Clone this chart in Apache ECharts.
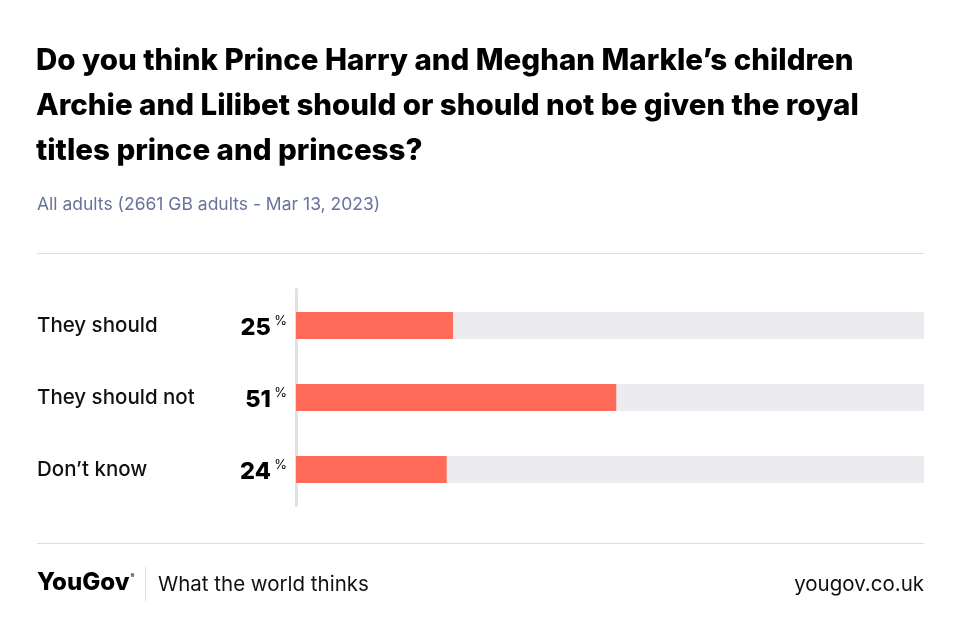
<!DOCTYPE html>
<html>
<head>
<meta charset="utf-8">
<script src="https://cdn.jsdelivr.net/npm/echarts@6/dist/echarts.min.js"></script>
<style>html,body{margin:0;padding:0;background:#fff;}#c{width:960px;height:638px;}</style>
</head>
<body>
<div id="c"></div>
<script>
const categories = ["They should", "They should not", "Don\u2019t know"];
const values = [25, 51, 24];
const fullScale = [100, 100, 100];
const titleText = "Do you think Prince Harry and Meghan Markle\u2019s children\nArchie and Lilibet should or should not be given the royal\ntitles prince and princess?";
const subtitleText = "All adults (2661 GB adults - Mar 13, 2023)";

const FONT = "Inter";
const chart = echarts.init(document.getElementById('c'), null, {renderer: 'canvas'});
chart.setOption({
  backgroundColor: '#fff',
  animation: false,
  title: [
    {text: titleText, left: 36, top: 39, padding: 0,
     textStyle: {fontFamily: FONT, fontWeight: 800, fontSize: 29.5, lineHeight: 45, color: '#000'}},
    {text: subtitleText, left: 37, top: 196, padding: 0,
     textStyle: {fontFamily: FONT, fontWeight: 400, fontSize: 17.5, color: '#68739a'}},
    {text: '{b|YouGov}{r|®}', left: 37, top: 571, padding: 0,
     textStyle: {rich: {
       b: {fontFamily: FONT, fontWeight: 800, fontSize: 24, color: '#000', letterSpacing: -1},
       r: {fontFamily: FONT, fontSize: 6, color: '#000', padding: [0, 0, 14, 1]}
     }}},
    {text: 'What the world thinks', left: 158, top: 574, padding: 0,
     textStyle: {fontFamily: FONT, fontWeight: 400, fontSize: 20.5, color: '#111'}},
    {text: 'yougov.co.uk', right: 36, top: 574, padding: 0,
     textStyle: {fontFamily: FONT, fontWeight: 400, fontSize: 20.5, color: '#111'}}
  ],
  graphic: [
    {type: 'line', shape: {x1: 37, y1: 253.5, x2: 924, y2: 253.5}, style: {stroke: '#dcdde3', lineWidth: 1}},
    {type: 'line', shape: {x1: 37, y1: 543.5, x2: 924, y2: 543.5}, style: {stroke: '#dcdde3', lineWidth: 1}},
    {type: 'line', shape: {x1: 145.5, y1: 567, x2: 145.5, y2: 601}, style: {stroke: '#dcdde3', lineWidth: 1}}
  ],
  grid: {left: 296, right: 36, top: 289.5, bottom: 132.5, containLabel: false},
  xAxis: {type: 'value', min: 0, max: 100, show: false},
  yAxis: {
    type: 'category', data: categories, inverse: true,
    axisLine: {show: true, onZero: false, lineStyle: {color: '#dfe1ea', width: 3}},
    axisTick: {show: false},
    axisLabel: {
      margin: 259, align: 'left',
      fontFamily: FONT, fontWeight: 500, fontSize: 20.5, color: '#111'
    }
  },
  series: [
    {type: 'bar', data: fullScale, barWidth: 27, barGap: '-100%', silent: true,
     itemStyle: {color: '#ececf0'}, z: 1},
    {type: 'bar', data: values, barWidth: 27, z: 2,
     itemStyle: {color: '#ff6a59'},
     label: {
       show: true, position: 'left', distance: 9,
       formatter: function (p) { return '{v|' + p.value + '}{s| }{p|%}'; },
       rich: {
         v: {fontFamily: FONT, fontWeight: 800, fontSize: 23.5, color: '#000', padding: [4, 0, 0, 0]},
         s: {fontSize: 12},
         p: {fontFamily: FONT, fontWeight: 400, fontSize: 13, color: '#000', padding: [0, 0, 8, 0]}
       }
     }}
  ]
});
</script>
</body>
</html>
